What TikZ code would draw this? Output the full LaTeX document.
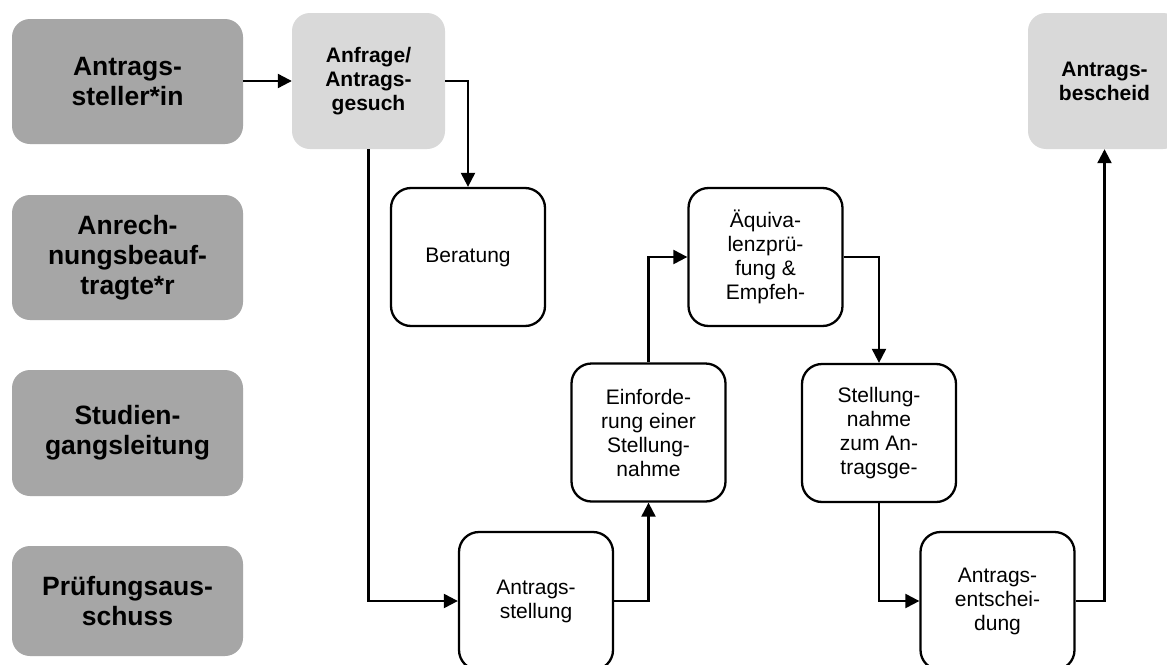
\documentclass[tikz,border=0pt]{standalone}
\usepackage{fontspec}
\setmainfont{Liberation Sans}
\usetikzlibrary{arrows.meta}
\definecolor{roleg}{HTML}{A6A6A6}
\definecolor{docg}{HTML}{D9D9D9}
\tikzset{
  role/.style={fill=roleg, rounded corners=18pt, minimum width=231pt, inner sep=0pt, align=center, font=\fontsize{26.5}{30}\selectfont\bfseries},
  docbox/.style={fill=docg, rounded corners=18pt, minimum width=153pt, minimum height=136pt, inner sep=0pt, align=center, font=\fontsize{21}{24}\selectfont\bfseries},
  stepbox/.style={draw=black, line width=2.3pt, fill=white, rounded corners=20pt, minimum width=154pt, minimum height=138pt, inner sep=0pt, align=center, font=\fontsize{21}{24}\selectfont},
  flow/.style={line width=2.2pt, -{Triangle[length=14pt,width=14pt]}}
}
\begin{document}
\begin{tikzpicture}[x=1pt,y=-1pt]
\useasboundingbox (0,0) rectangle (1167,664);
\fill[white] (0,0) rectangle (1167,664);
\clip (0,0) rectangle (1167,664);
% role boxes
\node[role, minimum height=125pt] (r1) at (127.5,81.5) {Antrags-\\steller*in};
\node[role, minimum height=125pt] (r2) at (127.5,257.5) {Anrech-\\nungsbeauf-\\tragte*r};
\node[role, minimum height=126pt] (r3) at (127.5,433) {Studien-\\gangsleitung};
\node[role, minimum height=110pt] (r4) at (127.5,601) {Prüfungsaus-\\schuss};
% documents
\node[docbox] (anf) at (368.5,81) {Anfrage/\\Antrags-\\gesuch};
\node[docbox] (bes) at (1104.5,81) {Antrags-\\bescheid};
% steps
\node[stepbox] (ber) at (468,257) {Beratung};
\node[stepbox] (ast) at (536,601) {Antrags-\\stellung};
\node[stepbox] (einf) at (648.5,432.5) {Einforde-\\rung einer\\Stellung-\\nahme};
\node[stepbox] (aeq) at (765.5,257) {Äquiva-\\lenzprü-\\fung \&\\Empfeh-};
\node[stepbox] (stn) at (879,433) {Stellung-\\nahme\\zum An-\\tragsge-};
\node[stepbox] (ent) at (997.5,601) {Antrags-\\entschei-\\dung};
% connectors
\draw[flow] (r1.east |- anf.west) -- (anf.west);
\draw[flow] (anf.east) -| (ber.north);
\draw[flow] (anf.south) |- (ast.west);
\draw[flow] (ast.east) -| (einf.south);
\draw[flow] (einf.north) |- (aeq.west);
\draw[flow] (aeq.east) -| (stn.north);
\draw[flow] (stn.south) |- (ent.west);
\draw[flow] (ent.east) -| (bes.south);
\end{tikzpicture}
\end{document}
